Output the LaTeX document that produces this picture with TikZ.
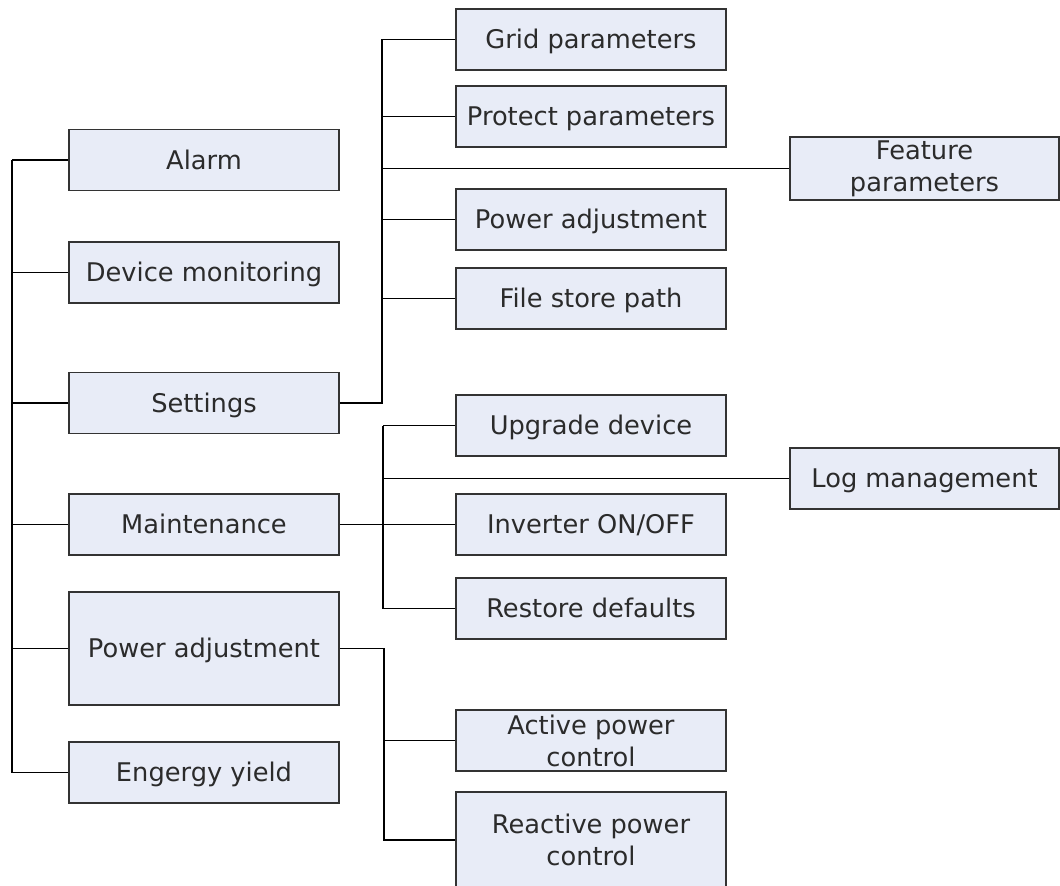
\documentclass[tikz,border=0pt]{standalone}
\usepackage{fontspec}
\setmainfont{DejaVu Sans}
\definecolor{boxfill}{HTML}{E8ECF7}
\definecolor{boxline}{HTML}{333333}
\definecolor{txt}{HTML}{2B2B2B}
\begin{document}
\begin{tikzpicture}[x=1pt,y=-1pt,
  boxbase/.style={draw=boxline, line width=1.5pt, fill=boxfill, rectangle,
    minimum width=270pt, minimum height=61pt, inner sep=0pt, text=txt,
    font=\fontsize{25.7}{32}\selectfont, align=center},
  box/.style={boxbase, text height=18.5pt, text depth=0.5pt},
  boxtwo/.style={boxbase},
  conn/.style={draw=black, line width=1.3pt}]
\useasboundingbox (0,0) rectangle (1060,886);
\clip (0,0) rectangle (1060,886);

% left column
\node[box] (alarm)    at (204,160)   {Alarm};
\node[box] (device)   at (204,272.5) {Device monitoring};
\node[box] (settings) at (204,403)   {Settings};
\node[box] (maint)    at (204,524.7) {Maintenance};
\node[box, minimum height=113pt] (padja) at (204,648.5) {Power adjustment};
\node[box] (energy)   at (204,772.5) {Engergy yield};

% middle column
\node[box] (grid)     at (591,39.5)  {Grid parameters};
\node[box] (protect)  at (591,116.5) {Protect parameters};
\node[box] (padjb)    at (591,219.5) {Power adjustment};
\node[box] (file)     at (591,298.5) {File store path};
\node[box] (upgrade)  at (591,425.5) {Upgrade device};
\node[box] (inverter) at (591,524.5) {Inverter ON/OFF};
\node[box] (restore)  at (591,608.5) {Restore defaults};
\node[boxtwo] (active)   at (591,740.5) {Active power\\control};
\node[boxtwo, minimum height=96pt] (reactive) at (591,840) {Reactive power\\control};

% right column
\node[boxtwo, minimum width=269pt, minimum height=63pt] (feature) at (924.5,168.5) {Feature\\parameters};
\node[box, minimum width=269pt] (logm) at (924.5,478.5) {Log management};

% bus coordinates
\coordinate (lbus) at (12,0);
\coordinate (sbus) at (382,0);
\coordinate (mbus) at (383,0);
\coordinate (pbus) at (384,0);

% left bus
\draw[conn] (lbus |- alarm.west) -- (lbus |- energy.west);
\foreach \n in {alarm,device,settings,maint,padja,energy}
  \draw[conn] (lbus |- \n.west) -- (\n.west);

% settings
\draw[conn] (settings.east) -- (sbus |- settings.east) -- (sbus |- grid.west) -- (grid.west);
\foreach \n in {protect,feature,padjb,file}
  \draw[conn] (sbus |- \n.west) -- (\n.west);

% maintenance
\draw[conn] (mbus |- upgrade.west) -- (mbus |- restore.west);
\draw[conn] (maint.east) -- (mbus |- maint.east);
\foreach \n in {upgrade,logm,inverter,restore}
  \draw[conn] (mbus |- \n.west) -- (\n.west);

% power adjustment
\draw[conn] (padja.east) -- (pbus |- padja.east) -- (pbus |- reactive.west) -- (reactive.west);
\draw[conn] (pbus |- active.west) -- (active.west);
\end{tikzpicture}
\end{document}
